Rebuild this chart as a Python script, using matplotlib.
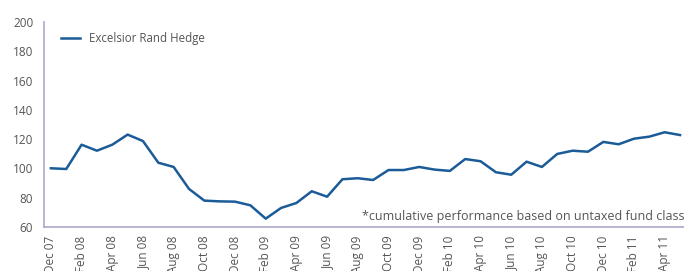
import matplotlib.pyplot as plt

plt.rcParams['font.family'] = ['Open Sans', 'DejaVu Sans']

months = ["Dec 07", "Jan 08", "Feb 08", "Mar 08", "Apr 08", "May 08", "Jun 08",
          "Jul 08", "Aug 08", "Sep 08", "Oct 08", "Nov 08", "Dec 08",
          "Jan 09", "Feb 09", "Mar 09", "Apr 09", "May 09", "Jun 09",
          "Jul 09", "Aug 09", "Sep 09", "Oct 09", "Nov 09", "Dec 09",
          "Jan 10", "Feb 10", "Mar 10", "Apr 10", "May 10", "Jun 10",
          "Jul 10", "Aug 10", "Sep 10", "Oct 10", "Nov 10", "Dec 10",
          "Jan 11", "Feb 11", "Mar 11", "Apr 11", "May 11"]
rand_hedge = [100.1, 99.6, 116.2, 112.1, 116.2, 123.1, 118.7,
              103.9, 101.0, 86.0, 78.0, 77.5, 77.3,
              74.8, 65.7, 73.0, 76.4, 84.4, 80.7,
              92.6, 93.3, 92.1, 98.9, 98.9, 101.0,
              99.2, 98.3, 106.4, 104.9, 97.4, 95.7,
              104.6, 101.0, 109.9, 112.1, 111.4, 118.1,
              116.5, 120.3, 121.7, 124.7, 122.8]
yticks = [60, 80, 100, 120, 140, 160, 180, 200]

line_col = "#1b5b98"
spine_col = "#a9a9cc"
text_col = "#555555"

fig = plt.figure(figsize=(6.84, 2.71), dpi=100)
ax = fig.add_axes([0.065, 0.1624, 0.935, 0.7564])

x = list(range(len(months)))
ax.plot(x, rand_hedge, color=line_col, lw=1.8, label="Excelsior Rand Hedge")

ax.set_ylim(60, 200)
ax.set_xlim(-0.42, 41.26)
ax.set_yticks(yticks)
ax.set_xticks(x[::2])
ax.set_xticklabels(months[::2], rotation=90, va="top", ha="center")
ax.tick_params(length=0, labelsize=8.5, labelcolor=text_col, pad=6)
ax.tick_params(axis="y", pad=8)

for s in ["top", "right"]:
    ax.spines[s].set_visible(False)
for s in ["left", "bottom"]:
    ax.spines[s].set_color(spine_col)
    ax.spines[s].set_linewidth(1.2)

leg = ax.legend(loc="upper left", frameon=False, fontsize=8.3,
                handlelength=1.6, handletextpad=0.8,
                bbox_to_anchor=(0.01, 1.0))
for t in leg.get_texts():
    t.set_color(text_col)

ax.text(1.0, 0.02, "*cumulative performance based on untaxed fund class",
        transform=ax.transAxes, ha="right", va="bottom", fontsize=9,
        color=text_col)

fig.savefig("out.png", dpi=100)
